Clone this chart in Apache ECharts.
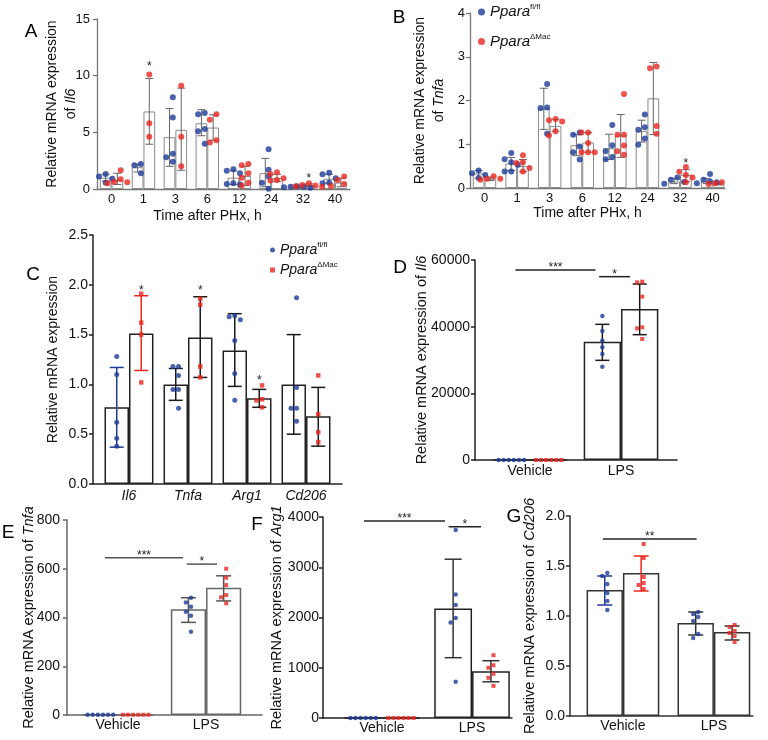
<!DOCTYPE html>
<html><head><meta charset="utf-8">
<script src="https://cdn.jsdelivr.net/npm/echarts@6/dist/echarts.min.js"></script>
<style>html,body{margin:0;padding:0;background:#fff}#c{width:768px;height:740px}</style>
</head><body><div id="c"></div>
<script>
const FONT = '"Liberation Sans", Arial, Helvetica, sans-serif';
const BLUE = '#1d3b98', RED = '#e8281f', INK = '#111';

// ---------- Panel A : Il6 after PHx ----------
const timeLabels = ['0','1','3','6','12','24','32','40'];
const aFlMean  = [1.0, 1.92, 4.57, 5.8, 1.0, 1.4, 0.2, 0.9];
const aFlLow   = [0.7, 1.5, 2.0, 4.7, 0.4, 0.2, 0.1, 0.5];
const aFlHigh  = [1.3, 2.2, 7.1, 7.0, 1.6, 2.7, 0.3, 1.3];
const aMacMean = [0.8, 6.84, 5.22, 5.42, 1.15, 0.95, 0.35, 0.56];
const aMacLow  = [0.4, 3.95, 1.65, 4.3, 0.3, 0.65, 0.2, 0.2];
const aMacHigh = [1.39, 9.75, 8.9, 6.55, 2.0, 1.3, 0.45, 0.95];
const aFlPts = [[1.33,1.1,0.9,0.56],[2.2,2.1,1.4],[8.1,6.3,3.1,2.8,2.4],[6.7,6.6,5.3,5.1,4.0],
  [1.74,1.6,1.4,0.5,0.45,0.4],[3.5,1.7,1.1,0.56,0.03],[0.25,0.2,0.2,0.15,0.1],[1.44,1.3,0.95,0.56,0.5]];
const aMacPts = [[1.65,0.85,0.65,0.6,0.5],[10.1,5.8,4.6],[9.1,4.6,2.0],[6.6,6.1,4.3,4.1],
  [2.2,2.1,1.4,1.0,0.56,0.3],[1.47,1.33,0.94,0.8,0.74],[0.5,0.35,0.3,0.25,0.2],[1.1,0.8,0.44,0.32,0.26]];
const aStars = [[1, 11.1], [6, 1.2]];

// ---------- Panel B : Tnfa after PHx ----------
const bFlMean  = [0.33, 0.56, 1.81, 0.98, 0.91, 1.30, 0.15, 0.15];
const bFlLow   = [0.22, 0.40, 1.34, 0.74, 0.65, 1.05, 0.10, 0.10];
const bFlHigh  = [0.40, 0.70, 2.28, 1.22, 1.23, 1.55, 0.22, 0.22];
const bMacMean = [0.21, 0.50, 1.42, 1.04, 1.20, 2.05, 0.30, 0.10];
const bMacLow  = [0.17, 0.37, 1.30, 0.82, 0.70, 1.22, 0.15, 0.07];
const bMacHigh = [0.25, 0.65, 1.57, 1.26, 1.68, 2.87, 0.42, 0.12];
const bFlPts = [[0.40,0.34,0.30,0.23],[0.80,0.66,0.59,0.53,0.38,0.38],[2.38,1.84,1.83,1.24],[1.27,1.22,0.95,0.82,0.65],
  [1.44,0.98,0.84,0.71,0.66],[1.68,1.39,1.33,1.13,0.99],[0.24,0.19,0.14,0.10],[0.32,0.19,0.15,0.13,0.11]];
const bMacPts = [[0.27,0.21,0.21,0.19],[0.75,0.59,0.57,0.46,0.38],[1.58,1.55,1.52,1.30,1.20],[1.27,1.27,1.03,0.82,0.82,0.82],
  [2.15,1.22,1.22,0.97,0.84,0.76],[2.78,2.74,1.42,1.24],[0.48,0.37,0.30,0.24,0.13],[0.13,0.11,0.11,0.09]];
const bStars = [[6, 0.62]];

// ---------- Panel C : genes ----------
const geneLabels = ['Il6','Tnfa','Arg1','Cd206'];
const cFlMean  = [0.77, 1.00, 1.34, 1.00];
const cFlLow   = [0.37, 0.84, 0.98, 0.50];
const cFlHigh  = [1.17, 1.16, 1.71, 1.50];
const cMacMean = [1.51, 1.47, 0.86, 0.68];
const cMacLow  = [1.14, 1.07, 0.77, 0.38];
const cMacHigh = [1.89, 1.88, 0.95, 0.97];
const cFlPts = [[1.28,1.10,0.62,0.46,0.38],[1.18,1.18,1.09,0.95,0.95,0.76],[1.69,1.68,1.65,1.44,1.11,0.84],[1.87,0.97,0.76,0.76,0.63]];
const cMacPts = [[1.91,1.62,1.50,1.02],[1.86,1.80,1.18,1.07],[0.99,0.85,0.84,0.77],[1.09,0.70,0.52,0.42]];
const cStars = [[0, 1.97], [1, 1.97], [2, 1.07]];

// ---------- Panels D-G : Vehicle / LPS ----------
const treatLabels = ['Vehicle','LPS'];
const dFlMean = [1, 35500],  dFlLow = [null, 29900],  dFlHigh = [null, 40700];
const dMacMean = [1, 45300], dMacLow = [null, 37600], dMacHigh = [null, 52800];
const dFlPts = [[1,1,1,1,1,1],[43200,38700,35800,33800,31800,28000]];
const dMacPts = [[1,1,1,1,1,1],[53500,53300,49000,39800,39500,36300]];
const dSig = [[-0.16, 0.72, 57000, '***'], [0.76, 1.10, 55000, '*']];

const eFlMean = [1, 434],  eFlLow = [null, 380],  eFlHigh = [null, 481];
const eMacMean = [1, 522], eMacLow = [null, 468], eMacHigh = [null, 571];
const eFlPts = [[1,1,1,1,1,1],[481,462,444,424,407,342]];
const eMacPts = [[1,1,1,1,1,1],[600,563,533,492,483,458]];
const eSig = [[-0.15, 0.74, 645, '***'], [0.78, 1.125, 619, '*']];

const fFlMean = [1, 2180], fFlLow = [null, 1200], fFlHigh = [null, 3160];
const fMacMean = [1, 930], fMacLow = [null, 720], fMacHigh = [null, 1140];
const fFlPts = [[1,1,1,1,1,1],[3740,2460,2250,1990,1900,720]];
const fMacPts = [[1,1,1,1,1,1],[1250,1050,1000,880,800,640]];
const fSig = [[-0.2, 0.7, 3920, '***'], [0.74, 1.1, 3807, '*']];

const gFlMean = [1.26, 0.93], gFlLow = [1.11, 0.81], gFlHigh = [1.40, 1.04];
const gMacMean = [1.43, 0.84], gMacLow = [1.25, 0.76], gMacHigh = [1.60, 0.90];
const gFlPts = [[1.43,1.40,1.32,1.23,1.15,1.06],[1.04,1.02,0.99,0.95,0.82,0.78]];
const gMacPts = [[1.72,1.58,1.39,1.33,1.31,1.27],[0.91,0.89,0.85,0.83,0.80,0.74]];
const gSig = [[-0.22, 0.81, 1.77, '**']];

// ---------- builder ----------
const option = {animation:false, backgroundColor:'#fff', textStyle:{fontFamily:FONT},
  grid:[], xAxis:[], yAxis:[], series:[], graphic:[], legend:[]};

// deterministic beeswarm: returns horizontal pixel offsets
function swarm(vals, pxY, diam) {
  const order = vals.map((_, i) => i).sort((a, b) => vals[b] - vals[a]);
  const placed = [], out = new Array(vals.length);
  order.forEach(i => {
    const y = vals[i] * pxY;
    for (let k = 0; k < 40; k++) {
      const off = (k === 0 ? 0 : (k % 2 ? -1 : 1) * Math.ceil(k / 2)) * diam;
      if (placed.every(q => (q[0] - off) ** 2 + (q[1] - y) ** 2 >= diam * diam * 0.95)) {
        placed.push([off, y]); out[i] = off; break;
      }
    }
  });
  const mn = Math.min(...out), mx = Math.max(...out), sh = (mn + mx) / 2;
  return out.map(o => o - sh);
}

function addPanel(p) {
  const k = option.grid.length;
  const [gl, gt, gw, gh] = p.g;
  option.grid.push({left: gl, top: gt, width: gw, height: gh});
  const pxX = gw / (p.xMax - p.xMin), pxY = gh / p.yMax, d = p.barW / 2;
  const ticks = p.cats.map((_, i) => i);
  const ls = {color: p.axis, width: p.axisW};
  option.xAxis.push({
    type: 'value', gridIndex: k, min: p.xMin, max: p.xMax,
    axisLine: {show: true, onZero: false, lineStyle: ls},
    axisTick: {show: false}, splitLine: {show: false},
    axisLabel: {customValues: ticks, margin: p.xMargin, fontSize: p.xFont, color: INK, fontFamily: FONT,
      formatter: v => { const c = p.cats[Math.round(v)] || ''; return p.italicCats ? '{i|' + c + '}' : c; },
      rich: {i: {fontStyle: 'italic', fontSize: p.xFont, color: INK, fontFamily: FONT}}},
    name: p.xName || '', nameLocation: 'middle', nameGap: p.xNameGap || 0, nameMoveOverlap: false,
    nameTextStyle: {fontSize: 14, color: INK, fontFamily: FONT, padding: p.xNamePad || 0}
  });
  option.yAxis.push({
    type: 'value', gridIndex: k, min: 0, max: p.yMax, interval: p.yInt,
    axisLine: {show: true, onZero: false, lineStyle: ls},
    axisTick: {show: true, length: 4, lineStyle: ls}, splitLine: {show: false},
    axisLabel: {margin: p.yMargin, fontSize: p.yFont, color: INK, fontFamily: FONT, formatter: p.yFmt || (v => String(v))},
    name: p.yName, nameLocation: 'middle', nameRotate: 90, nameGap: p.yNameGap, nameMoveOverlap: false,
    nameTextStyle: {fontSize: p.yNameFont, color: INK, fontFamily: FONT, lineHeight: 19,
      rich: {i: {fontStyle: 'italic', fontSize: p.yNameFont, color: INK, fontFamily: FONT, lineHeight: 19}}}
  });
  const bars = [];
  p.fl.mean.forEach((v, i) => bars.push([i - d, v]));
  p.mac.mean.forEach((v, i) => bars.push([i + d, v]));
  option.series.push({type: 'bar', xAxisIndex: k, yAxisIndex: k, barWidth: p.barW * pxX - 0.01, data: bars,
    silent: true, z: 2, itemStyle: {color: '#fff', borderColor: p.barBorder, borderWidth: p.barBW}});
  const err = [];
  const addErr = (g, sign, grp) => g.lo.forEach((lo, i) => {
    if (lo == null) return;
    err.push({value: [i + sign * d, lo, g.hi[i]], itemStyle: {color: p.errColor(grp, i)}});
  });
  addErr(p.fl, -1, 'fl'); addErr(p.mac, 1, 'mac');
  option.series.push({type: 'custom', xAxisIndex: k, yAxisIndex: k, silent: true, z: 4, data: err,
    encode: {x: 0, y: [1, 2]},
    renderItem: (params, api) => {
      const x = api.value(0), a = api.coord([x, api.value(1)]), b = api.coord([x, api.value(2)]);
      const st = {stroke: api.visual('color'), lineWidth: p.errW}, w = p.capW / 2;
      return {type: 'group', children: [
        {type: 'line', shape: {x1: a[0], y1: a[1], x2: b[0], y2: b[1]}, style: st},
        {type: 'line', shape: {x1: a[0] - w, y1: a[1], x2: a[0] + w, y2: a[1]}, style: st},
        {type: 'line', shape: {x1: b[0] - w, y1: b[1], x2: b[0] + w, y2: b[1]}, style: st}]};
    }});
  const mk = (g, sign) => {
    const out = [];
    g.pts.forEach((arr, i) => swarm(arr, pxY, p.sym + 0.6).forEach((o, j) => out.push([i + sign * d + o / pxX, arr[j]])));
    return out;
  };
  option.series.push({name: 'fl', type: 'scatter', xAxisIndex: k, yAxisIndex: k, symbol: 'circle', symbolSize: p.sym,
    itemStyle: {color: BLUE}, data: mk(p.fl, -1), silent: true, z: 5});
  option.series.push({name: 'mac', type: 'scatter', xAxisIndex: k, yAxisIndex: k, symbol: p.macSym, symbolSize: p.macSym === 'rect' ? p.sym - 0.5 : p.sym,
    itemStyle: {color: RED}, data: mk(p.mac, 1), silent: true, z: 5});
  const sig = (p.sig || []).concat((p.stars || []).map(s => [s[0] + d, s[0] + d, s[1], '*']));
  if (sig.length) option.series.push({type: 'custom', xAxisIndex: k, yAxisIndex: k, silent: true, z: 6,
    data: sig.map(s => [s[0], s[2]]),
    renderItem: (params, api) => {
      const s = sig[params.dataIndex], a = api.coord([s[0], s[2]]), b = api.coord([s[1], s[2]]);
      const ch = []; let ty = a[1] + 3;
      if (s[1] !== s[0]) {
        ch.push({type: 'line', shape: {x1: a[0], y1: a[1], x2: b[0], y2: b[1]}, style: {stroke: p.sigColor, lineWidth: 1.5}});
        ty = a[1] - 2;
      }
      ch.push({type: 'text', x: (a[0] + b[0]) / 2, y: ty, style: {text: s[3], fontSize: 12, fill: '#222', align: 'center', verticalAlign: 'middle', fontFamily: FONT}});
      return {type: 'group', children: ch};
    }});
}

const darkErr = c => (g, i) => c;
addPanel({g: [97, 19, 253, 170], xMin: -0.455, xMax: 7.47, barW: 0.367, cats: timeLabels,
  yMax: 15, yInt: 5, yFont: 13, yMargin: 7, xFont: 13, xMargin: 4,
  yName: 'Relative mRNA expression\nof {i|Il6}', yNameFont: 14, yNameGap: 16,
  xName: 'Time after PHx, h', xNameGap: 20, xNamePad: [0, 32, 0, 0],
  fl: {mean: aFlMean, lo: aFlLow, hi: aFlHigh, pts: aFlPts}, mac: {mean: aMacMean, lo: aMacLow, hi: aMacHigh, pts: aMacPts},
  stars: aStars, axis: '#777', axisW: 1.3, barBorder: '#8a8a8a', barBW: 1, errColor: darkErr('#666'), errW: 1, capW: 8,
  sym: 6, macSym: 'circle', sigColor: '#444'});
addPanel({g: [470, 13, 255, 175], xMin: -0.445, xMax: 7.38, barW: 0.36, cats: timeLabels,
  yMax: 4, yInt: 1, yFont: 13, yMargin: 5, xFont: 13, xMargin: 4,
  yName: 'Relative mRNA expression\nof {i|Tnfa}', yNameFont: 14, yNameGap: 21,
  xName: 'Time after PHx, h', xNameGap: 18, xNamePad: [0, 20, 0, 0],
  fl: {mean: bFlMean, lo: bFlLow, hi: bFlHigh, pts: bFlPts}, mac: {mean: bMacMean, lo: bMacLow, hi: bMacHigh, pts: bMacPts},
  stars: bStars, axis: '#777', axisW: 1.3, barBorder: '#8a8a8a', barBW: 1, errColor: darkErr('#666'), errW: 1, capW: 8,
  sym: 6, macSym: 'circle', sigColor: '#444'});
addPanel({g: [93, 235, 249, 249], xMin: -0.61, xMax: 3.61, barW: 0.415, cats: geneLabels, italicCats: true,
  yMax: 2.5, yInt: 0.5, yFont: 14, yMargin: 5, xFont: 14, xMargin: 5, yFmt: v => v.toFixed(1),
  yName: 'Relative mRNA expression', yNameFont: 14, yNameGap: 30,
  fl: {mean: cFlMean, lo: cFlLow, hi: cFlHigh, pts: cFlPts}, mac: {mean: cMacMean, lo: cMacLow, hi: cMacHigh, pts: cMacPts},
  stars: cStars, axis: '#222', axisW: 1.5, barBorder: '#222', barBW: 1.5,
  errColor: (g, i) => i === 0 ? (g === 'fl' ? BLUE : RED) : '#1a1a1a', errW: 1.5, capW: 14,
  sym: 5, macSym: 'rect', sigColor: '#222'});
addPanel({g: [475, 260, 202, 200], xMin: -0.604, xMax: 1.615, barW: 0.41, cats: treatLabels,
  yMax: 60000, yInt: 20000, yFont: 14, yMargin: 5, xFont: 14, xMargin: 4,
  yName: 'Relative mRNA expression of {i|Il6}', yNameFont: 14.5, yNameGap: 44,
  fl: {mean: dFlMean, lo: dFlLow, hi: dFlHigh, pts: dFlPts}, mac: {mean: dMacMean, lo: dMacLow, hi: dMacHigh, pts: dMacPts},
  sig: dSig, axis: '#222', axisW: 1.5, barBorder: '#222', barBW: 1.5, errColor: darkErr('#1a1a1a'), errW: 1.5, capW: 14,
  sym: 4.5, macSym: 'rect', sigColor: '#222'});
addPanel({g: [67, 520, 195, 195], xMin: -0.58, xMax: 1.636, barW: 0.4, cats: treatLabels,
  yMax: 800, yInt: 200, yFont: 14, yMargin: 7, xFont: 14, xMargin: 3,
  yName: 'Relative mRNA expression of {i|Tnfa}', yNameFont: 14.5, yNameGap: 29,
  fl: {mean: eFlMean, lo: eFlLow, hi: eFlHigh, pts: eFlPts}, mac: {mean: eMacMean, lo: eMacLow, hi: eMacHigh, pts: eMacPts},
  sig: eSig, axis: '#666', axisW: 1.5, barBorder: '#666', barBW: 1.5, errColor: darkErr('#555'), errW: 1.5, capW: 15,
  sym: 4.5, macSym: 'rect', sigColor: '#555'});
addPanel({g: [323, 517, 189, 201], xMin: -0.656, xMax: 1.444, barW: 0.42, cats: treatLabels,
  yMax: 4000, yInt: 1000, yFont: 14, yMargin: 4, xFont: 14, xMargin: 3,
  yName: 'Relative mRNA expression of {i|Arg1}', yNameFont: 14.5, yNameGap: 37,
  fl: {mean: fFlMean, lo: fFlLow, hi: fFlHigh, pts: fFlPts}, mac: {mean: fMacMean, lo: fMacLow, hi: fMacHigh, pts: fMacPts},
  sig: fSig, axis: '#222', axisW: 1.5, barBorder: '#222', barBW: 1.5, errColor: darkErr('#333'), errW: 1.5, capW: 17,
  sym: 4.5, macSym: 'rect', sigColor: '#222'});
addPanel({g: [570, 516, 183, 200], xMin: -0.582, xMax: 1.43, barW: 0.4, cats: treatLabels,
  yMax: 2, yInt: 0.5, yFont: 14, yMargin: 5, xFont: 14, xMargin: 3, yFmt: v => v.toFixed(1),
  yName: 'Relative mRNA expression of {i|Cd206}', yNameFont: 14.5, yNameGap: 31,
  fl: {mean: gFlMean, lo: gFlLow, hi: gFlHigh, pts: gFlPts}, mac: {mean: gMacMean, lo: gMacLow, hi: gMacHigh, pts: gMacPts},
  sig: gSig, axis: '#333', axisW: 1.5, barBorder: '#333', barBW: 1.5,
  errColor: (g, i) => i === 0 ? (g === 'fl' ? BLUE : RED) : '#333', errW: 1.5, capW: 15,
  sym: 4.5, macSym: 'rect', sigColor: '#222'});

// legends
const legFmt = n => n === 'fl' ? '{i|Ppara}{s|fl/fl}' : '{i|Ppara}{s|\u0394Mac}';
const legRich = fs => ({i: {fontStyle: 'italic', fontSize: fs, color: INK, fontFamily: FONT, lineHeight: 18},
  s: {fontSize: 8, color: INK, fontFamily: FONT, verticalAlign: 'top', lineHeight: 9}});
option.legend.push({left: 478, top: 3, padding: 0, orient: 'vertical', itemGap: 13, itemWidth: 7, itemHeight: 7,
  selectedMode: false, data: [{name: 'fl', icon: 'circle'}, {name: 'mac', icon: 'circle'}],
  formatter: legFmt, textStyle: {rich: legRich(15)}});
option.legend.push({left: 270, top: 241, padding: 0, orient: 'vertical', itemGap: 4, itemWidth: 5, itemHeight: 5,
  selectedMode: false, data: [{name: 'fl', icon: 'circle'}, {name: 'mac', icon: 'rect'}],
  formatter: legFmt, textStyle: {rich: legRich(14)}});

// panel letters
[['A', 31, 32], ['B', 399, 18], ['C', 33, 275], ['D', 400, 268], ['E', 8, 533], ['F', 257, 525], ['G', 514, 517]]
  .forEach(([t, x, y]) => option.graphic.push({type: 'text', x: x, y: y, silent: true,
    style: {text: t, fontSize: 19, fill: '#000', align: 'center', verticalAlign: 'middle', fontFamily: FONT}}));

const chart = echarts.init(document.getElementById('c'));
chart.setOption(option);
</script></body></html>
